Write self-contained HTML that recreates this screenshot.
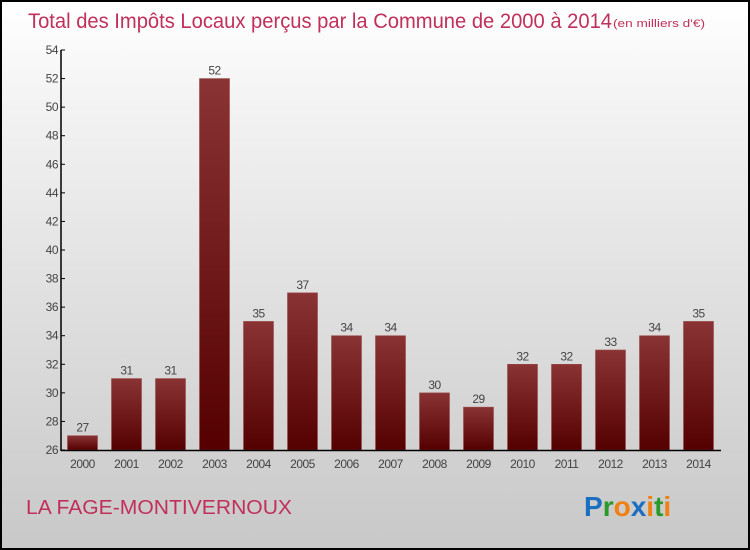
<!DOCTYPE html>
<html><head><meta charset="utf-8"><style>
body{margin:0;}
#c{position:relative;width:750px;height:550px;box-sizing:border-box;border:2px solid #000;background:linear-gradient(#ffffff,#f2f2f2 20%,#c8c8c8);overflow:hidden;font-family:"Liberation Sans",sans-serif;}
</style></head><body>
<div id="c">
<svg width="746" height="546" style="position:absolute;left:0;top:0" id="s">
<defs><linearGradient id="g" x1="0" y1="0" x2="0" y2="1"><stop offset="0" stop-color="#8a3335"/><stop offset="1" stop-color="#550000"/></linearGradient></defs>
<text x="26" y="26" font-size="21" fill="#c0305a" textLength="584" lengthAdjust="spacingAndGlyphs">Total des Impôts Locaux perçus par la Commune de 2000 à 2014</text>
<text x="611" y="25" font-size="11" fill="#c0305a" textLength="92" lengthAdjust="spacingAndGlyphs">(en milliers d'€)</text>
<text x="24" y="512" font-size="20" fill="#c0305a" textLength="266" lengthAdjust="spacingAndGlyphs">LA FAGE-MONTIVERNOUX</text>
<text x="582" y="514" font-size="28" font-weight="bold"><tspan fill="#1a6fc0">P</tspan><tspan fill="#2a9a2a">r</tspan><tspan fill="#f08010">o</tspan><tspan fill="#1a6fc0">x</tspan><tspan fill="#f08010">i</tspan><tspan fill="#2a9a2a">t</tspan><tspan fill="#f08010">i</tspan></text>
<g id="plot"></g>
</svg>
</div>
<script>
const years=["2000","2001","2002","2003","2004","2005","2006","2007","2008","2009","2010","2011","2012","2013","2014"];
const values=[27,31,31,52,35,37,34,34,30,29,32,32,33,34,35];
const yTicks=[26,28,30,32,34,36,38,40,42,44,46,48,50,52,54];
const ns="http://www.w3.org/2000/svg";
const g=document.getElementById('plot');
function y(v){return 448-(v-26)*(400/28);}
function x(i){return 80.5+i*44;}
function mk(t,a,p){const e=document.createElementNS(ns,t);for(const k in a)e.setAttribute(k,a[k]);(p||g).appendChild(e);return e;}
yTicks.forEach(v=>{
 const t=mk('text',{x:56,y:y(v)+4,'font-size':12,fill:'#444','text-anchor':'end','letter-spacing':'-0.5'});t.textContent=v;
 
 
 mk('line',{x1:59,x2:63,y1:y(v),y2:y(v),stroke:'#000'});
});
values.forEach((v,i)=>{
 const r=mk('rect',{x:x(i)-15,y:y(v),width:30,height:448-y(v),fill:'url(#g)',stroke:'#9a4a4a','stroke-width':0.6});
 
 
 const l=mk('text',{x:x(i),y:y(v)-4,'font-size':12,fill:'#444','text-anchor':'middle','letter-spacing':'-0.5'});l.textContent=v;
 
 
 const xl=mk('text',{x:x(i),y:466,'font-size':12,fill:'#444','text-anchor':'middle','letter-spacing':'-0.5'});xl.textContent=years[i];
 
 
});
const ya=mk('line',{x1:59,x2:59,y1:48,y2:449,stroke:'#000','stroke-width':1.5});


const xa=mk('line',{x1:59,x2:719,y1:448.5,y2:448.5,stroke:'#000','stroke-width':1.5});


</script>
</body></html>
